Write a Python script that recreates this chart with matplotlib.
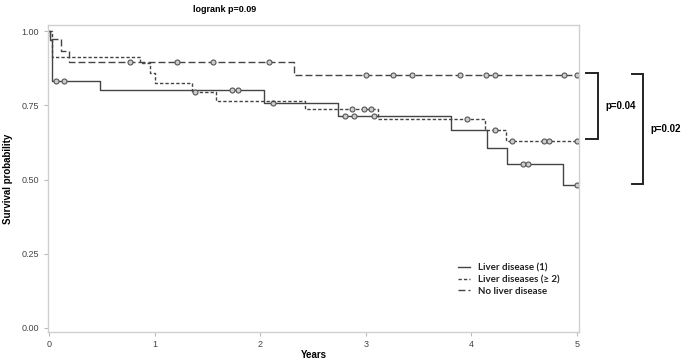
import numpy as np
import matplotlib
matplotlib.use("Agg")
import matplotlib.pyplot as plt

plt.rcParams['font.family'] = ['Liberation Sans', 'DejaVu Sans']

# Liver disease (1)
t1 = [0, 0.01, 0.03, 0.48, 2.04, 2.74, 3.81, 4.15, 4.34, 4.87, 5.0]
s1 = [1.0, 0.97, 0.833, 0.80, 0.759, 0.715, 0.666, 0.607, 0.552, 0.483, 0.483]
c1 = [0.07, 0.14, 1.73, 1.79, 2.12, 2.80, 2.89, 3.08, 4.49, 4.54, 5.0]

# Liver diseases (>=2)
t2 = [0, 0.03, 0.86, 0.96, 1.0, 1.35, 1.58, 2.42, 3.12, 4.13, 4.33, 5.0]
s2 = [1.0, 0.911, 0.891, 0.857, 0.826, 0.796, 0.765, 0.736, 0.704, 0.667, 0.628, 0.628]
c2 = [1.38, 2.87, 2.98, 3.05, 3.96, 4.22, 4.39, 4.69, 4.74, 5.0]

# No liver disease
t3 = [0, 0.01, 0.11, 0.19, 2.32, 5.0]
s3 = [1.0, 0.973, 0.933, 0.895, 0.852, 0.852]
c3 = [0.77, 1.21, 1.55, 2.08, 3.0, 3.26, 3.44, 3.89, 4.14, 4.22, 4.88, 5.0]

labels = ["Liver disease (1)", "Liver diseases (\u2265 2)", "No liver disease"]
pairs = [("p=0.04", 0.857, 0.636), ("p=0.02", 0.855, 0.485)]

def surv_at(t, s, x):
    i = np.searchsorted(t, x, side="right") - 1
    return np.array(s)[i]

fig = plt.figure(figsize=(6.85, 3.63), dpi=100)
ax = fig.add_axes([0.0701, 0.0854, 0.775, 0.8457])

lc = "#444444"
styles = [dict(linestyle="-"), dict(dashes=(2.4, 1.5)), dict(dashes=(5, 2.2))]
for (t, s, c), lab, st in zip([(t1, s1, c1), (t2, s2, c2), (t3, s3, c3)], labels, styles):
    ax.step(t, s, where="post", color=lc, lw=1.0, label=lab, **st)
    ax.plot(c, surv_at(t, s, c), "o", ms=3.6, mfc="#cccccc", mec="#555555", mew=0.8, ls="none")

ax.set_xlim(-0.0095, 5.019)
ax.set_ylim(-0.0135, 1.0202)
ax.set_xticks([0, 1, 2, 3, 4, 5])
ax.set_yticks([0, 0.25, 0.5, 0.75, 1.0])
ax.set_yticklabels(["0.00", "0.25", "0.50", "0.75", "1.00"])
for sp in ax.spines.values():
    sp.set_color("#d0d0d0")
    sp.set_linewidth(1.0)
ax.tick_params(colors="#bbbbbb", labelcolor="#444444", labelsize=6.5, length=3, width=0.8)
ax.tick_params(axis="x", pad=2.5)

ax.set_xlabel("Years", fontsize=7, fontweight="bold", labelpad=1)
ax.set_ylabel("Survival probability", fontsize=7, fontweight="bold", labelpad=6)
fig.text(225 / 685, 1 - 9 / 363, "logrank p=0.09", fontsize=6.5, fontweight="bold",
         ha="center", va="center")

leg = ax.legend(loc="lower left", bbox_to_anchor=(0.755, 0.09), frameon=False,
                prop=dict(family="Lato", weight="bold", size=7), handlelength=1.3,
                handletextpad=0.8, labelspacing=0.25)
for txt in leg.get_texts():
    txt.set_color("#222222")

# brackets for pairwise comparisons
for (txt, ytop, ybot), xb, xt in zip(pairs, [5.20, 5.63], [5.27, 5.70]):
    ax.plot([xb - 0.11, xb, xb, xb - 0.11], [ytop, ytop, ybot, ybot], color="#222222",
            lw=1.4, clip_on=False, solid_joinstyle="miter")
    ax.text(xt, (ytop + ybot) / 2, txt, fontsize=7, fontweight="bold", va="center",
            ha="left", clip_on=False)

fig.savefig("out.png", dpi=100)
